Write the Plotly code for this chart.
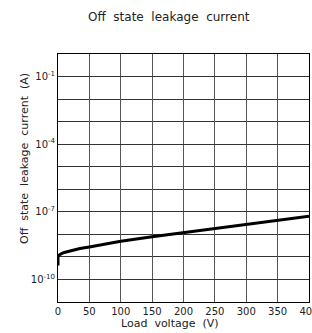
import plotly.graph_objects as go

# Data
voltage = [0, 0, 2, 5, 10, 20, 35, 50, 75, 100, 150, 200, 250, 300, 350, 400]
leakage = [4.2e-10, 1.0e-9, 1.2e-9, 1.38e-9, 1.58e-9, 1.9e-9, 2.34e-9, 2.75e-9,
           3.7e-9, 4.9e-9, 7.8e-9, 1.17e-8, 1.78e-8, 2.75e-8, 4.2e-8, 6.3e-8]

x_ticks = [0, 50, 100, 150, 200, 250, 300, 350, 400]
y_grid_exp = list(range(-11, 1))
y_label_exp = [-10, -7, -4, -1]

y_tickvals = [10.0 ** e for e in y_label_exp]
y_ticktext = ["10<sup>%d</sup>" % e for e in y_label_exp]
y_minorvals = [10.0 ** e for e in y_grid_exp]

NB = "\u00a0"
FONT = "DejaVu Sans"
TXT = "#222"

fig = go.Figure()
fig.add_trace(go.Scatter(x=voltage, y=leakage, mode="lines",
                         line=dict(color="black", width=3), showlegend=False))

fig.update_layout(
    width=312, height=333,
    margin=dict(l=58, r=3, t=54, b=31),
    paper_bgcolor="white", plot_bgcolor="white",
    font=dict(family=FONT, size=10, color=TXT),
    annotations=[
        dict(text=("Off" + NB * 2 + "state" + NB * 2 + "leakage" + NB * 2 + "current"),
             xref="paper", yref="paper", x=(169 - 58) / 251, y=1 + (54 - 17) / 248,
             xanchor="center", yanchor="middle", showarrow=False,
             font=dict(family=FONT, size=12, color=TXT)),
        dict(text=("Load" + NB * 2 + "voltage" + NB * 2 + "(V)"),
             xref="paper", yref="paper", x=(170 - 58) / 251, y=-(323 - 302) / 248,
             xanchor="center", yanchor="middle", showarrow=False,
             font=dict(family=FONT, size=11, color=TXT)),
        dict(text=("Off" + NB * 2 + "state" + NB * 2 + "leakage" + NB * 2 + "current" + NB * 2 + "(A)"),
             xref="paper", yref="paper", x=-(58 - 24) / 251, y=(302 - 159) / 248,
             xanchor="center", yanchor="middle", showarrow=False, textangle=-90,
             font=dict(family=FONT, size=11, color=TXT)),
    ],
)

fig.update_xaxes(range=[0, 400], tickvals=x_ticks, showgrid=True, gridcolor="#555",
                 gridwidth=1, showline=True, linecolor="black", linewidth=1, mirror=True,
                 ticks="", zeroline=False, automargin=False, ticklabeloverflow="allow",
                 tickfont=dict(size=10, color=TXT))
fig.update_yaxes(type="log", range=[-11, 0], tickvals=y_tickvals, ticktext=y_ticktext,
                 showgrid=True, gridcolor="#333", gridwidth=1, showline=True,
                 linecolor="black", linewidth=1, mirror=True, ticks="", zeroline=False,
                 automargin=False, tickfont=dict(size=10, color=TXT),
                 minor=dict(tickvals=y_minorvals, showgrid=True, gridcolor="#333",
                            gridwidth=1, ticks=""))

fig.write_html("out.html", config={"displayModeBar": False},
               post_script="document.body.style.margin='0';")
